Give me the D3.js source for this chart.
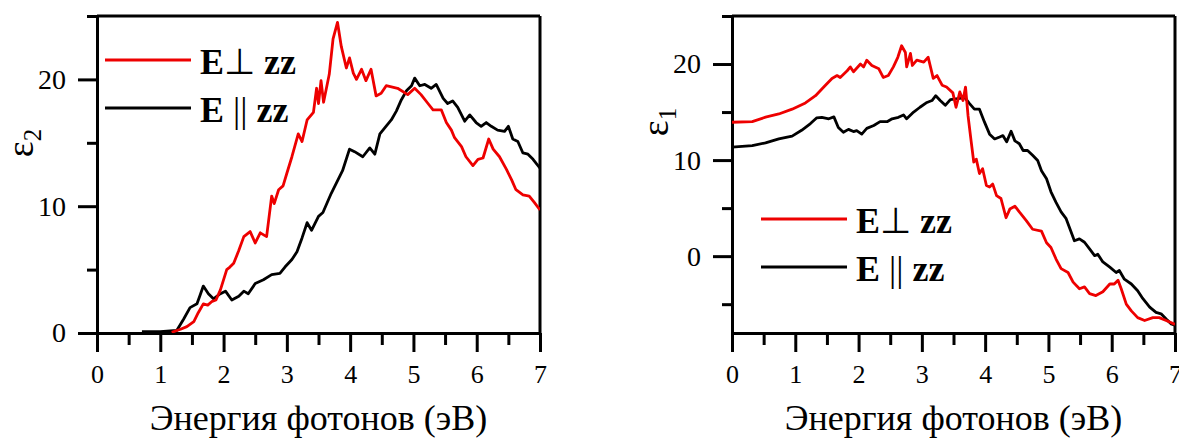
<!DOCTYPE html>
<html><head><meta charset="utf-8">
<script src="https://cdn.jsdelivr.net/npm/d3@7"></script>
<style>body{margin:0;background:#fff}svg{display:block}</style>
</head><body>
<script>
// ---------- data ----------
const xTicksMajor = [0,1,2,3,4,5,6,7];
const xTicksMinor = [0.5,1.5,2.5,3.5,4.5,5.5,6.5];
const eps2TicksMajor = [0,10,20];
const eps2TicksMinor = [5,15,25];
const eps1TicksMajor = [0,10,20];
const eps1TicksMinor = [-5,5,15,25];
const legendLabels = ["E\u22A5 zz","E || zz"];
const xTitle = "Энергия фотонов (эВ)";

// epsilon2, E perpendicular zz  [energy eV, value]
const eps2Perp = [[1.18,0.05],[1.32,0.3],[1.42,0.5],[1.53,0.9],[1.6,1.6],[1.68,2.3],[1.75,2.2],[1.82,2.5],[1.88,2.6],[1.95,3.4],[2.05,5.0],[2.1,5.2],[2.16,5.5],[2.24,6.5],[2.32,7.6],[2.42,8.0],[2.5,7.1],[2.58,7.9],[2.68,7.6],[2.76,10.8],[2.8,10.2],[2.87,11.3],[2.94,11.6],[3.0,12.6],[3.08,13.9],[3.18,15.7],[3.24,15.1],[3.32,16.8],[3.42,17.4],[3.47,19.3],[3.5,18.1],[3.54,19.9],[3.58,18.2],[3.67,20.4],[3.73,23.2],[3.8,24.5],[3.86,22.6],[3.94,20.9],[3.99,21.7],[4.05,20.5],[4.1,20.0],[4.18,20.8],[4.25,19.9],[4.33,20.8],[4.41,18.7],[4.49,18.9],[4.57,19.5],[4.75,19.3],[4.91,18.8],[5.02,19.3],[5.12,18.8],[5.23,18.1],[5.31,17.6],[5.44,17.6],[5.52,16.6],[5.6,16.0],[5.65,15.4],[5.76,14.7],[5.83,13.9],[5.94,13.2],[6.02,13.7],[6.1,13.8],[6.19,15.3],[6.26,14.5],[6.36,13.9],[6.47,12.9],[6.55,12.1],[6.62,11.3],[6.73,10.9],[6.83,10.8],[6.91,10.3],[7.0,9.7]];
// epsilon2, E parallel zz
const eps2Par = [[0.71,0.1],[1.0,0.1],[1.26,0.2],[1.37,1.1],[1.47,2.0],[1.58,2.3],[1.63,3.0],[1.68,3.7],[1.76,3.1],[1.84,2.7],[1.95,3.1],[2.03,3.3],[2.13,2.6],[2.24,2.9],[2.32,3.3],[2.39,3.1],[2.5,3.9],[2.63,4.2],[2.76,4.6],[2.89,4.7],[2.97,5.2],[3.08,5.8],[3.16,6.4],[3.24,7.5],[3.32,8.7],[3.39,8.1],[3.5,9.2],[3.57,9.5],[3.7,11.0],[3.78,11.8],[3.88,12.8],[3.99,14.5],[4.07,14.3],[4.2,13.9],[4.31,14.6],[4.39,14.1],[4.47,15.7],[4.55,16.2],[4.65,16.8],[4.73,17.5],[4.81,18.4],[4.89,19.1],[4.97,19.5],[5.02,20.1],[5.1,19.5],[5.18,19.6],[5.28,19.3],[5.36,19.6],[5.47,18.5],[5.54,18.1],[5.62,18.3],[5.7,17.8],[5.81,16.7],[5.89,17.2],[5.99,16.6],[6.07,16.3],[6.15,16.6],[6.23,16.3],[6.33,16.0],[6.44,15.9],[6.5,16.3],[6.57,15.3],[6.65,15.1],[6.73,14.2],[6.81,14.1],[6.89,13.7],[7.0,13.0]];
// epsilon1, E perpendicular zz
const eps1Perp = [[0,13.94],[0.32,14.0],[0.53,14.47],[0.74,14.8],[0.95,15.3],[1.16,15.95],[1.32,16.7],[1.45,17.6],[1.58,18.5],[1.66,18.8],[1.71,18.6],[1.82,19.3],[1.87,19.7],[1.92,19.2],[2.03,20.0],[2.08,19.7],[2.13,20.4],[2.21,19.85],[2.32,19.5],[2.39,18.6],[2.47,18.8],[2.55,19.7],[2.62,20.7],[2.68,21.9],[2.74,21.2],[2.76,19.7],[2.82,21.1],[2.85,19.85],[2.92,20.4],[3.03,20.2],[3.1,20.7],[3.18,18.5],[3.24,18.8],[3.32,17.8],[3.39,17.6],[3.49,17.0],[3.54,15.5],[3.6,17.1],[3.65,16.2],[3.69,17.6],[3.73,14.6],[3.78,11.9],[3.82,9.8],[3.86,10.1],[3.91,8.6],[3.96,9.1],[4.02,7.35],[4.07,7.2],[4.12,7.5],[4.18,6.3],[4.25,6.0],[4.33,4.0],[4.39,4.9],[4.47,5.2],[4.54,4.6],[4.65,3.7],[4.75,2.8],[4.89,2.6],[4.97,1.4],[5.04,0.9],[5.12,-0.3],[5.2,-1.3],[5.31,-1.7],[5.39,-2.7],[5.49,-3.4],[5.57,-3.2],[5.65,-3.9],[5.75,-4.1],[5.86,-3.7],[5.97,-2.9],[6.04,-2.9],[6.1,-2.5],[6.15,-3.4],[6.23,-5.0],[6.31,-5.7],[6.41,-6.4],[6.52,-6.7],[6.65,-6.4],[6.75,-6.4],[6.86,-6.7],[7.0,-7.1]];
// epsilon1, E parallel zz
const eps1Par = [[0,11.34],[0.32,11.5],[0.53,11.8],[0.74,12.2],[0.95,12.5],[1.1,13.1],[1.24,13.8],[1.34,14.4],[1.42,14.45],[1.53,14.3],[1.61,14.5],[1.68,13.4],[1.76,12.9],[1.84,13.2],[1.92,12.97],[1.97,13.07],[2.05,12.7],[2.13,13.3],[2.24,13.6],[2.34,14.0],[2.45,14.0],[2.53,14.3],[2.63,14.45],[2.71,14.7],[2.76,14.3],[2.87,15.0],[2.97,15.5],[3.08,16.0],[3.16,16.2],[3.22,16.7],[3.29,16.2],[3.37,15.7],[3.45,16.3],[3.57,16.4],[3.68,16.5],[3.75,15.9],[3.83,15.3],[3.91,15.3],[3.99,13.95],[4.07,12.7],[4.15,12.2],[4.23,12.4],[4.28,12.55],[4.34,11.9],[4.41,13.0],[4.47,12.0],[4.54,11.7],[4.6,11.0],[4.67,11.0],[4.75,10.5],[4.83,9.95],[4.89,8.9],[4.97,8.05],[5.04,6.7],[5.12,5.6],[5.2,4.6],[5.28,3.9],[5.36,2.5],[5.41,1.6],[5.49,1.8],[5.57,1.45],[5.65,0.75],[5.73,0.05],[5.78,0.2],[5.86,-0.6],[5.97,-1.15],[6.07,-1.7],[6.12,-1.5],[6.2,-2.4],[6.31,-2.9],[6.41,-3.6],[6.49,-4.4],[6.6,-5.3],[6.7,-5.85],[6.78,-6.0],[6.86,-6.55],[6.94,-7.05],[7.0,-7.2]];

// ---------- drawing ----------
const W = 1179, H = 438;
const RED = "#ee0000", BLACK = "#000";
const svg = d3.select("body").append("svg").attr("width", W).attr("height", H);
const serif = "'Liberation Serif','Times New Roman',serif";

function panel(opts){
  const x = d3.scaleLinear().domain([0,7]).range([opts.x0, opts.x1]);
  const y = d3.scaleLinear().domain(opts.yDomain).range([333, 16]);
  const g = svg.append("g");

  // frame: top and right
  g.append("line").attr("x1", x(0)).attr("x2", x(7)).attr("y1", y.range()[1]).attr("y2", y.range()[1])
    .attr("stroke","#000").attr("stroke-width",3);
  g.append("line").attr("x1", x(7)).attr("x2", x(7)).attr("y1", y.range()[1]).attr("y2", y.range()[0])
    .attr("stroke","#000").attr("stroke-width",3);

  // x axis
  const xa = g.append("g").attr("transform", `translate(0,${y.range()[0]})`);
  xa.call(d3.axisBottom(x).tickValues(xTicksMajor).tickSize(19).tickSizeOuter(0).tickFormat(d3.format("d")).tickPadding(13));
  xa.append("g").call(d3.axisBottom(x).tickValues(xTicksMinor).tickSize(12).tickFormat(""))
    .select(".domain").remove();
  xa.selectAll("path,line").attr("stroke","#000").attr("stroke-width",3);
  xa.selectAll("text").attr("font-family", serif).attr("font-size", 26).attr("fill","#000");

  // y axis
  const ya = g.append("g").attr("transform", `translate(${x(0)},0)`);
  ya.call(d3.axisLeft(y).tickValues(opts.yMajor).tickSize(19).tickSizeOuter(0).tickFormat(d3.format("d")).tickPadding(12));
  ya.append("g").call(d3.axisLeft(y).tickValues(opts.yMinor).tickSize(10).tickFormat(""))
    .select(".domain").remove();
  ya.selectAll("path,line").attr("stroke","#000").attr("stroke-width",3);
  ya.selectAll("text").attr("font-family", serif).attr("font-size", 28).attr("fill","#000");

  // axis titles
  g.append("text").attr("x", (x(0)+x(7))/2).attr("y", 430).attr("text-anchor","middle")
    .attr("font-family", serif).attr("font-size", 36).text(xTitle);
  const yt = g.append("text").attr("transform", `translate(${opts.x0-64},${opts.yTitleY}) rotate(-90)`)
    .attr("text-anchor","middle").attr("font-family", serif).attr("font-size", 38);
  yt.append("tspan").text("\u03B5");
  yt.append("tspan").attr("font-size", 25).attr("dy", 8).text(opts.sub);

  // lines
  const line = d3.line().x(d => x(d[0])).y(d => y(d[1]));
  const clipId = "clip" + opts.sub;
  svg.append("clipPath").attr("id", clipId).append("rect")
    .attr("x", x(0)).attr("y", 16).attr("width", x(7)-x(0)).attr("height", 317);
  const lg = g.append("g").attr("clip-path", `url(#${clipId})`);
  lg.append("path").datum(opts.par).attr("d", line).attr("fill","none").attr("stroke",BLACK)
    .attr("stroke-width",2.8).attr("stroke-linejoin","round");
  lg.append("path").datum(opts.perp).attr("d", line).attr("fill","none").attr("stroke",RED)
    .attr("stroke-width",2.8).attr("stroke-linejoin","round");

  // legend
  const colors = [RED, BLACK];
  legendLabels.forEach((lab, i) => {
    const ly = opts.legY + i*48;
    g.append("line").attr("x1", opts.legX).attr("x2", opts.legX+86).attr("y1", ly).attr("y2", ly)
      .attr("stroke", colors[i]).attr("stroke-width", 3);
    const t = g.append("text").attr("x", opts.legX+95).attr("y", ly+14)
      .attr("font-family", serif).attr("font-size", 36).attr("font-weight","bold");
    if (i === 0) {
      t.append("tspan").text("E");
      t.append("tspan").attr("font-weight","normal").text("\u22A5");
      t.append("tspan").text(" zz");
    } else {
      t.append("tspan").text("E ");
      t.append("tspan").attr("font-weight","normal").text("||");
      t.append("tspan").text(" zz");
    }
  });
}

panel({x0: 97, x1: 540, yDomain: [0,25], yMajor: eps2TicksMajor, yMinor: eps2TicksMinor,
  perp: eps2Perp, par: eps2Par, sub: "2", legX: 105, legY: 60, yTitleY: 143});
panel({x0: 732, x1: 1175, yDomain: [-8,25], yMajor: eps1TicksMajor, yMinor: eps1TicksMinor,
  perp: eps1Perp, par: eps1Par, sub: "1", legX: 761, legY: 219, yTitleY: 122});
</script>
</body></html>
